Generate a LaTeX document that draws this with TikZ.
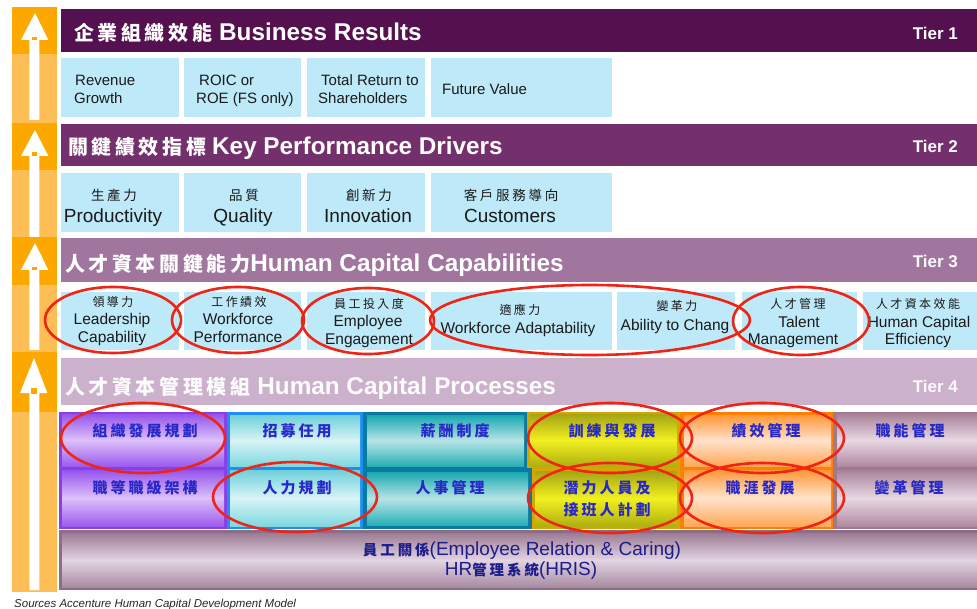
\documentclass[tikz,border=0pt]{standalone}
\usepackage{fontspec}
\setmainfont{Liberation Sans}
\newfontfamily\cjk{Noto Sans CJK TC}
\newfontfamily\cjks{Noto Sans CJK TC}[LetterSpace=18]
\newfontfamily\cjkp{Noto Sans CJK TC}[LetterSpace=20]
\definecolor{orgdark}{HTML}{FDA800}
\definecolor{orglight}{HTML}{FDBE55}
\definecolor{tierA}{HTML}{55104F}
\definecolor{tierB}{HTML}{74306C}
\definecolor{tierC}{HTML}{A0769E}
\definecolor{tierD}{HTML}{CBB1CB}
\definecolor{lblue}{HTML}{BEE9F8}
\definecolor{txtdark}{HTML}{1A1A1A}
\definecolor{pblue}{HTML}{2828C8}
\definecolor{navy}{HTML}{1C1C8C}
\definecolor{ovalred}{HTML}{F02414}
\tikzset{
  title/.style={anchor=base west, inner sep=0, text=white, font=\fontsize{24.3}{26}\selectfont\bfseries},
  tierlab/.style={anchor=base east, inner sep=0, text=white!94!tierD, font=\fontsize{17}{19}\selectfont\bfseries},
  btxt/.style={anchor=base, inner sep=0, text=txtdark},
  bsmall/.style={btxt, font=\fontsize{15}{17}\selectfont},
  bcjkA/.style={btxt, font=\cjkp\fontsize{13.5}{15}\selectfont},
  bengA/.style={btxt, font=\fontsize{19}{21}\selectfont},
  bcjkB/.style={btxt, font=\cjkp\fontsize{12}{14}\selectfont},
  bengB/.style={btxt, font=\fontsize{15.5}{17}\selectfont},
  ptxt/.style={anchor=base, inner sep=0, text=pblue, font=\cjkp\fontsize{15}{16}\selectfont\bfseries},
  oval/.style={draw=ovalred, line width=2.6pt},
}
\begin{document}
\begin{tikzpicture}[x=1pt,y=-1pt]
\useasboundingbox (0,0) rectangle (977,609);
% ---------- left orange column ----------
\fill[orgdark] (12,7) rectangle (57,54);
\fill[orglight] (12,54) rectangle (57,123);
\fill[orgdark] (12,123) rectangle (57,170);
\fill[orglight] (12,170) rectangle (57,237);
\fill[orgdark] (12,237) rectangle (57,285);
\fill[orglight] (12,285) rectangle (57,352);
\fill[orgdark] (12,352) rectangle (57,412);
\fill[orglight] (12,412) rectangle (57,592);
% arrows
\fill[white] (29.3,40) -- (21,40) -- (35,13) -- (48.3,40) -- (39.3,40) -- (39.3,120) -- (29.3,120) -- cycle;
\fill[orgdark] (31.8,37.5) rectangle (37.3,40.5);
\fill[white] (29.3,156) -- (21,156) -- (35,130) -- (48.3,156) -- (39.3,156) -- (39.3,237) -- (29.3,237) -- cycle;
\fill[orgdark] (31.8,152.5) rectangle (37.3,156.5);
\fill[white] (29.3,270) -- (21,270) -- (35,243) -- (48.3,270) -- (39.3,270) -- (39.3,350) -- (29.3,350) -- cycle;
\fill[orgdark] (31.8,267) rectangle (37.3,270.5);
\fill[white] (29.3,393) -- (20,393) -- (34,358) -- (47.3,393) -- (39.3,393) -- (39.3,590) -- (29.3,590) -- cycle;
\fill[orgdark] (30.5,388) rectangle (37.3,393.5);
% ---------- tier bars ----------
\fill[tierA] (61,9) rectangle (977,52);
\fill[tierB] (61,124) rectangle (977,166);
\fill[tierC] (61,238) rectangle (977,282);
\fill[tierD] (61,358) rectangle (977,405);
\node[title] (t1) at (74,41) {{\cjks\fontsize{20}{22}\selectfont\bfseries 企業組織效能}\hspace{7pt}Business Results};
\node[title] (t2) at (68,155) {{\cjks\fontsize{20}{22}\selectfont\bfseries 關鍵績效指標}\hspace{6pt}Key Performance Drivers};
\node[title] (t3) at (65,272) {{\cjks\fontsize{20}{22}\selectfont\bfseries 人才資本關鍵能力}Human Capital Capabilities};
\node[title, text=white!96!tierD] (t4) at (65,395) {{\cjks\fontsize{20}{22}\selectfont\bfseries 人才資本管理模組}\hspace{7pt}Human Capital Processes};
\node[tierlab] (l1) at (958,40) {Tier 1};
\node[tierlab] (l2) at (958,153) {Tier 2};
\node[tierlab] (l3) at (958,268) {Tier 3};
\node[tierlab] (l4) at (958,392) {Tier 4};
% ---------- row 1 ----------
\fill[lblue] (61,58) rectangle (179,117);
\fill[lblue] (184,58) rectangle (301,117);
\fill[lblue] (307,58) rectangle (425,117);
\fill[lblue] (431,58) rectangle (612,117);
\node[bsmall, anchor=base west] (a1) at (75,86) {Revenue};
\node[bsmall, anchor=base west] (a2) at (74,104) {Growth};
\node[bsmall, anchor=base west] (b1) at (199,86) {ROIC or};
\node[bsmall, anchor=base west] (b2) at (196,104) {ROE (FS only)};
\node[bsmall, anchor=base west] (c1) at (321,86) {Total Return to};
\node[bsmall, anchor=base west] (c2) at (318,104) {Shareholders};
\node[bsmall, anchor=base west] (d1) at (442,95) {Future Value};
% ---------- row 2 ----------
\fill[lblue] (61,173) rectangle (179,232);
\fill[lblue] (184,173) rectangle (301,232);
\fill[lblue] (307,173) rectangle (425,232);
\fill[lblue] (431,173) rectangle (612,232);
\node[bcjkA] (p1) at (114,200.5) {生產力};
\node[bengA] (p2) at (113,222.7) {Productivity};
\node[bcjkA] (q1) at (244,200.5) {品質};
\node[bengA] (q2) at (243,222.7) {Quality};
\node[bcjkA] (n1) at (369,200.5) {創新力};
\node[bengA] (n2) at (368,222.7) {Innovation};
\node[bcjkA] (u1) at (511,200.5) {客戶服務導向};
\node[bengA] (u2) at (510,222.7) {Customers};
% ---------- row 3 ----------
\fill[lblue] (61,292) rectangle (179,350);
\fill[lblue] (184,292) rectangle (301,350);
\fill[lblue] (307,292) rectangle (425,350);
\fill[lblue] (431,292) rectangle (612,350);
\fill[lblue] (617,292) rectangle (735,350);
\fill[lblue] (742,292) rectangle (857,350);
\fill[lblue] (863,292) rectangle (977,350);
\node[bcjkB] (e1) at (113,306.5) {領導力};
\node[bengB] (e2) at (112,325) {Leadership};
\node[bengB] (e3) at (112,343) {Capability};
\node[bcjkB] (f1) at (239,306.5) {工作績效};
\node[bengB] (f2) at (238,325) {Workforce};
\node[bengB] (f3) at (238,343) {Performance};
\node[bcjkB] (g1) at (369,308.5) {員工投入度};
\node[bengB] (g2) at (368,327) {Employee};
\node[bengB] (g3) at (369,345) {Engagement};
\node[bcjkB] (h1) at (520,314.5) {適應力};
\node[bengB] (h2) at (518,334) {Workforce Adaptability};
\node[bcjkB] (i1) at (677,310.5) {變革力};
\node[bengB] (i2) at (675,331) {Ability to Chang};
\node[bcjkB] (j1) at (798,308.5) {人才管理};
\node[bengB] (j2) at (799,328) {Talent};
\node[bengB] (j3) at (793,345) {Management};
\node[bcjkB] (k1) at (918,308.5) {人才資本效能};
\node[bengB] (k2) at (919,328) {Human Capital};
\node[bengB] (k3) at (918,345) {Efficiency};
% ---------- process grid ----------
% purple column
\fill[fill={rgb,255:red,138;green,63;blue,230}] (59,412) rectangle (227,529);
\path[top color={rgb,255:red,150;green,84;blue,236}, bottom color={rgb,255:red,157;green,92;blue,238}, middle color={rgb,255:red,220;green,192;blue,250}] (62,414) rectangle (224,466);
\path[top color={rgb,255:red,150;green,84;blue,236}, bottom color={rgb,255:red,157;green,92;blue,238}, middle color={rgb,255:red,220;green,192;blue,250}] (62,470) rectangle (224,526);
% cyan column
\fill[fill={rgb,255:red,30;green,143;blue,240}] (227,412) rectangle (363,529);
\path[top color={rgb,255:red,110;green,208;blue,218}, bottom color={rgb,255:red,128;green,216;blue,224}, middle color={rgb,255:red,216;green,244;blue,246}] (230,415) rectangle (360,466);
\path[top color={rgb,255:red,110;green,208;blue,218}, bottom color={rgb,255:red,128;green,216;blue,224}, middle color={rgb,255:red,216;green,244;blue,246}] (230,470) rectangle (360,526);
% teal column
\fill[fill={rgb,255:red,10;green,122;blue,160}] (363,412) rectangle (527,468);
\fill[fill={rgb,255:red,10;green,122;blue,160}] (363,468) rectangle (532,529);
\path[top color={rgb,255:red,24;green,168;blue,176}, bottom color={rgb,255:red,40;green,176;blue,182}, middle color={rgb,255:red,184;green,228;blue,230}] (367,415) rectangle (524,466);
\path[top color={rgb,255:red,24;green,168;blue,176}, bottom color={rgb,255:red,40;green,176;blue,182}, middle color={rgb,255:red,184;green,228;blue,230}] (367,472) rectangle (528,525);
% yellow column
\fill[fill={rgb,255:red,216;green,164;blue,0}] (527,412) rectangle (680,468);
\fill[fill={rgb,255:red,216;green,164;blue,0}] (532,468) rectangle (680,529);
\path[top color={rgb,255:red,164;green,164;blue,20}, bottom color={rgb,255:red,176;green,176;blue,16}, middle color={rgb,255:red,242;green,240;blue,32}] (530,414) rectangle (677,466);
\path[top color={rgb,255:red,164;green,164;blue,20}, bottom color={rgb,255:red,176;green,176;blue,16}, middle color={rgb,255:red,242;green,240;blue,32}] (535,471) rectangle (677,526);
% orange column
\fill[fill={rgb,255:red,255;green,128;blue,0}] (680,412) rectangle (833,529);
\path[top color={rgb,255:red,255;green,152;blue,56}, bottom color={rgb,255:red,255;green,168;blue,88}, middle color={rgb,255:red,255;green,226;blue,204}] (684,415) rectangle (831,466);
\path[top color={rgb,255:red,255;green,152;blue,56}, bottom color={rgb,255:red,255;green,168;blue,88}, middle color={rgb,255:red,255;green,226;blue,204}] (684,470) rectangle (831,526);
% mauve column
\fill[fill={rgb,255:red,160;green,120;blue,144}] (833,412) rectangle (977,529);
\path[top color={rgb,255:red,168;green,130;blue,152}, bottom color={rgb,255:red,176;green,138;blue,159}, middle color={rgb,255:red,232;green,216;blue,228}] (837,414) rectangle (977,466);
\path[top color={rgb,255:red,168;green,130;blue,152}, bottom color={rgb,255:red,176;green,138;blue,159}, middle color={rgb,255:red,232;green,216;blue,228}] (837,470) rectangle (977,526);
% bottom bar
\fill[fill={rgb,255:red,140;green,108;blue,134}] (59,530) rectangle (977,590);
\path[top color={rgb,255:red,156;green,124;blue,148}, bottom color={rgb,255:red,168;green,140;blue,162}, middle color={rgb,255:red,226;green,212;blue,226}] (62,533) rectangle (977,587);
% process texts
\node[ptxt] (m1) at (145,436) {組織發展規劃};
\node[ptxt] (m2) at (145,493) {職等職級架構};
\node[ptxt] (m3) at (297,436) {招募任用};
\node[ptxt] (m4) at (297,493) {人力規劃};
\node[ptxt] (m5) at (455,436) {薪酬制度};
\node[ptxt] (m6) at (450,493) {人事管理};
\node[ptxt] (m7) at (612,436) {訓練與發展};
\node[ptxt] (m8) at (607,493) {潛力人員及};
\node[ptxt] (m9) at (607,515) {接班人計劃};
\node[ptxt] (m10) at (766,436) {績效管理};
\node[ptxt] (m11) at (760,493) {職涯發展};
\node[ptxt] (m12) at (910,436) {職能管理};
\node[ptxt] (m13) at (909,493) {變革管理};
\node[anchor=base, inner sep=0, text=navy, font=\fontsize{19}{21}\selectfont] (hr1) at (522,555) {{\cjkp\fontsize{14.5}{16}\selectfont\bfseries 員工關係}(Employee Relation \& Caring)};
\node[anchor=base, inner sep=0, text=navy, font=\fontsize{19}{21}\selectfont] (hr2) at (521,575) {HR{\cjkp\fontsize{14.5}{16}\selectfont\bfseries 管理系統}(HRIS)};
% footer
\node[anchor=base west, inner sep=0, text=black!85, font=\fontsize{11.5}{13}\selectfont\itshape] (src) at (14,607) {Sources Accenture Human Capital Development Model};
% ---------- red ovals ----------
\draw[oval] (113,320) ellipse [x radius=68, y radius=33];
\draw[oval] (238,320) ellipse [x radius=66, y radius=33];
\draw[oval] (368,321) ellipse [x radius=66, y radius=33];
\draw[oval] (590,320) ellipse [x radius=160, y radius=35];
\draw[oval] (801,321) ellipse [x radius=68, y radius=34];
\draw[oval] (143,438) ellipse [x radius=82, y radius=35];
\draw[oval] (295,497) ellipse [x radius=82, y radius=35];
\draw[oval] (610,438) ellipse [x radius=82, y radius=35];
\draw[oval] (610,498) ellipse [x radius=82, y radius=35];
\draw[oval] (762,438) ellipse [x radius=82, y radius=35];
\draw[oval] (762,498) ellipse [x radius=82, y radius=35];
\end{tikzpicture}
\end{document}
